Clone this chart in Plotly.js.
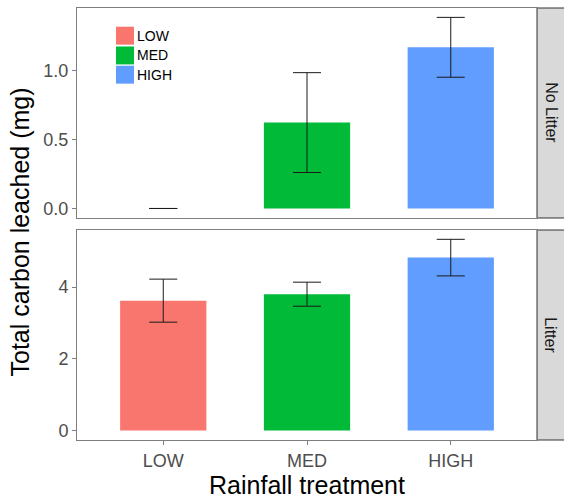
<!DOCTYPE html>
<html>
<head>
<meta charset="utf-8">
<script src="https://cdn.plot.ly/plotly-3.0.1.min.js"></script>
<style>html,body{margin:0;padding:0;background:#fff;}#chart{width:564px;height:500px;}</style>
</head>
<body>
<div id="chart"></div>
<script>
const categories = ["LOW", "MED", "HIGH"];
const colors = ["#F8766D", "#00BA38", "#619CFF"];
const facets = ["No Litter", "Litter"];
const noLitterMean = [0.0, 0.623, 1.169];
const noLitterErr = [0.0, 0.362, 0.217];
const litterMean = [3.62, 3.80, 4.82];
const litterErr = [0.60, 0.335, 0.51];

const FONT = "Liberation Sans, Arial, sans-serif";
const errStyle = {type: "data", visible: true, thickness: 1, width: 14, color: "#1a1a1a"};

const traces = [
  {type: "bar", x: categories, y: noLitterMean, xaxis: "x2", yaxis: "y2", width: 0.6,
   marker: {color: colors, line: {width: 0}}, showlegend: false, hoverinfo: "x+y",
   error_y: Object.assign({array: noLitterErr}, errStyle)},
  {type: "bar", x: categories, y: litterMean, xaxis: "x", yaxis: "y", width: 0.6,
   marker: {color: colors, line: {width: 0}}, showlegend: false, hoverinfo: "x+y",
   error_y: Object.assign({array: litterErr}, errStyle)}
];

const topDom = [0.5139, 1];
const botDom = [0, 0.4861];
const axisCommon = {showline: true, mirror: true, linecolor: "#7f7f7f", linewidth: 1,
  showgrid: false, zeroline: false, ticks: "outside", ticklen: 4, tickcolor: "#7f7f7f",
  tickfont: {family: FONT, size: 18, color: "#4d4d4d"}};

const shapes = [];
const annotations = [];
// facet strips
[[topDom, facets[0]], [botDom, facets[1]]].forEach(([d, label]) => {
  shapes.push({type: "rect", xref: "paper", yref: "paper", x0: 1, x1: 1.062, y0: d[0], y1: d[1],
    fillcolor: "#d9d9d9", line: {color: "#333333", width: 1}, layer: "below"});
  annotations.push({xref: "paper", yref: "paper", x: 1.03, y: (d[0] + d[1]) / 2, text: label,
    textangle: 90, showarrow: false, xanchor: "center", yanchor: "middle",
    font: {family: FONT, size: 16, color: "#1a1a1a"}});
});
// legend (inside top panel)
const keyTops = [0.9567, 0.9109, 0.8664];
const keyH = 0.0415;
categories.forEach((c, i) => {
  shapes.push({type: "rect", xref: "paper", yref: "paper", x0: 0.0848, x1: 0.1239,
    y0: keyTops[i] - keyH, y1: keyTops[i], fillcolor: colors[i], line: {width: 0}});
  annotations.push({xref: "paper", yref: "paper", x: 0.1255, y: keyTops[i] - keyH / 2,
    xanchor: "left", yanchor: "middle", text: c, showarrow: false,
    font: {family: FONT, size: 14, color: "#000"}});
});

const layout = {
  width: 564, height: 500,
  margin: {l: 77, r: 27, t: 8, b: 60},
  paper_bgcolor: "#fff", plot_bgcolor: "#fff",
  showlegend: false,
  bargap: 0.4,
  xaxis: Object.assign({}, axisCommon, {anchor: "y", domain: [0, 1], type: "category",
    categoryorder: "array", categoryarray: categories, range: [-0.6, 2.6],
    title: {text: "Rainfall treatment", font: {family: FONT, size: 25, color: "#000"}, standoff: 4}}),
  xaxis2: Object.assign({}, axisCommon, {anchor: "y2", domain: [0, 1], type: "category",
    categoryorder: "array", categoryarray: categories, range: [-0.6, 2.6],
    matches: "x", showticklabels: false, ticks: ""}),
  yaxis: Object.assign({}, axisCommon, {anchor: "x", domain: botDom, range: [-0.266, 5.59],
    tickvals: [0, 2, 4], ticktext: ["0", "2", "4"]}),
  yaxis2: Object.assign({}, axisCommon, {anchor: "x2", domain: topDom, range: [-0.069, 1.454],
    tickvals: [0, 0.5, 1.0], ticktext: ["0.0", "0.5", "1.0"]}),
  shapes: shapes,
  annotations: annotations.concat([
    {xref: "paper", yref: "paper", x: -0.124, y: 0.4826, text: "Total carbon leached (mg)",
     textangle: -90, showarrow: false, xanchor: "center", yanchor: "middle",
     font: {family: FONT, size: 25, color: "#000"}}
  ])
};

Plotly.newPlot("chart", traces, layout, {displayModeBar: false, staticPlot: true});
</script>
</body>
</html>
